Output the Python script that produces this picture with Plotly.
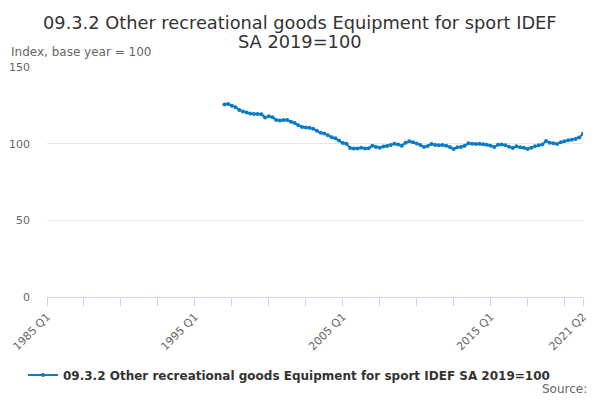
import plotly.graph_objects as go

# quarterly categories 1985 Q1 .. 2021 Q2
years = list(range(1985, 2022))
quarters = [f"{y} Q{q}" for y in years for q in range(1, 5)]
quarters = quarters[:quarters.index("2021 Q2") + 1]

# series starts in 1997 Q1
start_label = "1997 Q1"
index_values = [
    125.5, 125.8, 124.8, 123.8, 122.0, 121.0, 120.3, 119.7, 119.3, 119.4,
    119.2, 117.0, 117.8, 117.3, 115.5, 115.1, 115.4, 115.4, 114.3, 113.5,
    112.0, 110.8, 110.6, 110.4, 109.8, 108.4, 107.1, 106.7, 105.5, 104.2,
    103.5, 102.0, 100.4, 100.0, 97.2, 96.8, 96.9, 97.4, 96.9, 97.0,
    98.6, 97.9, 97.3, 98.2, 98.5, 99.2, 100.0, 99.4, 98.7, 100.6,
    101.5, 100.9, 100.1, 99.2, 97.8, 98.4, 99.8, 99.2, 98.9, 99.1,
    98.7, 97.8, 96.5, 97.6, 97.8, 98.6, 100.2, 100.0, 99.8, 100.0,
    99.7, 99.3, 98.7, 97.8, 99.3, 99.4, 98.9, 98.0, 97.2, 98.3,
    97.6, 97.4, 96.5, 97.3, 98.3, 98.9, 99.4, 101.8, 100.6, 100.2,
    99.8, 101.0, 101.6, 102.3, 102.6, 103.0, 104.1, 106.5,
]
series_x = quarters[quarters.index(start_label):]

series_name = "09.3.2 Other recreational goods Equipment for sport IDEF SA 2019=100"
title_lines = ["09.3.2 Other recreational goods Equipment for sport IDEF", "SA 2019=100"]
labelled_ticks = ["1985 Q1", "1995 Q1", "2005 Q1", "2015 Q1", "2021 Q2"]
tick_vals = quarters[::10] + ["2021 Q2"]
tick_text = [q if q in labelled_ticks else "" for q in tick_vals]

fig = go.Figure()
fig.add_trace(go.Scatter(
    x=series_x,
    y=index_values,
    mode="lines+markers",
    name=series_name,
    line=dict(color="#0a7bc4", width=2),
    marker=dict(color="#0a7bc4", size=4),
))

# title drawn as two lines to get the tighter line spacing
title_notes = [
    dict(text=line, xref="paper", yref="paper", x=(300 - 47) / 536, y=y,
         xanchor="center", yanchor="middle", showarrow=False,
         font=dict(size=17.8, color="#333333"))
    for line, y in zip(title_lines, [1.195, 1.112])
]

fig.update_layout(
    width=600,
    height=400,
    margin=dict(l=47, r=17, t=67, b=102),
    paper_bgcolor="white",
    plot_bgcolor="white",
    font=dict(family="DejaVu Sans", color="#666666", size=11),
    showlegend=True,
    legend=dict(
        orientation="h",
        x=0.4515, xanchor="center",
        y=-0.333, yanchor="middle",
        font=dict(size=12, color="#333333", weight="bold"),
    ),
    xaxis=dict(
        type="category",
        categoryorder="array",
        categoryarray=quarters,
        range=[0, len(quarters) - 1],
        tickmode="array",
        tickvals=tick_vals,
        ticktext=tick_text,
        tickangle=-45,
        ticks="outside",
        ticklen=8,
        tickcolor="#ccd6eb",
        showline=True,
        linecolor="#ccd6eb",
        showgrid=False,
        zeroline=False,
        automargin=False,
        tickfont=dict(size=11, color="#666666"),
    ),
    yaxis=dict(
        range=[0, 150],
        tickvals=[0, 50, 100, 150],
        showgrid=True,
        gridcolor="#e6e6e6",
        zeroline=False,
        automargin=False,
        ticklabelstandoff=16,
        tickfont=dict(size=11, color="#666666"),
    ),
    annotations=title_notes + [
        dict(text="Index, base year = 100", xref="paper", yref="paper",
             x=-0.071, y=1.065, xanchor="left", yanchor="middle",
             showarrow=False, font=dict(size=12, color="#666666")),
        dict(text="Source:", xref="paper", yref="paper",
             x=1.011, y=-0.398, xanchor="right", yanchor="middle",
             showarrow=False, font=dict(size=12, color="#666666")),
    ],
)

# the page body has a default 8px margin; drop it so the chart sits at 0,0
fig.write_html(
    "out.html",
    config={"displayModeBar": False},
    post_script="document.body.style.margin='0';",
)
